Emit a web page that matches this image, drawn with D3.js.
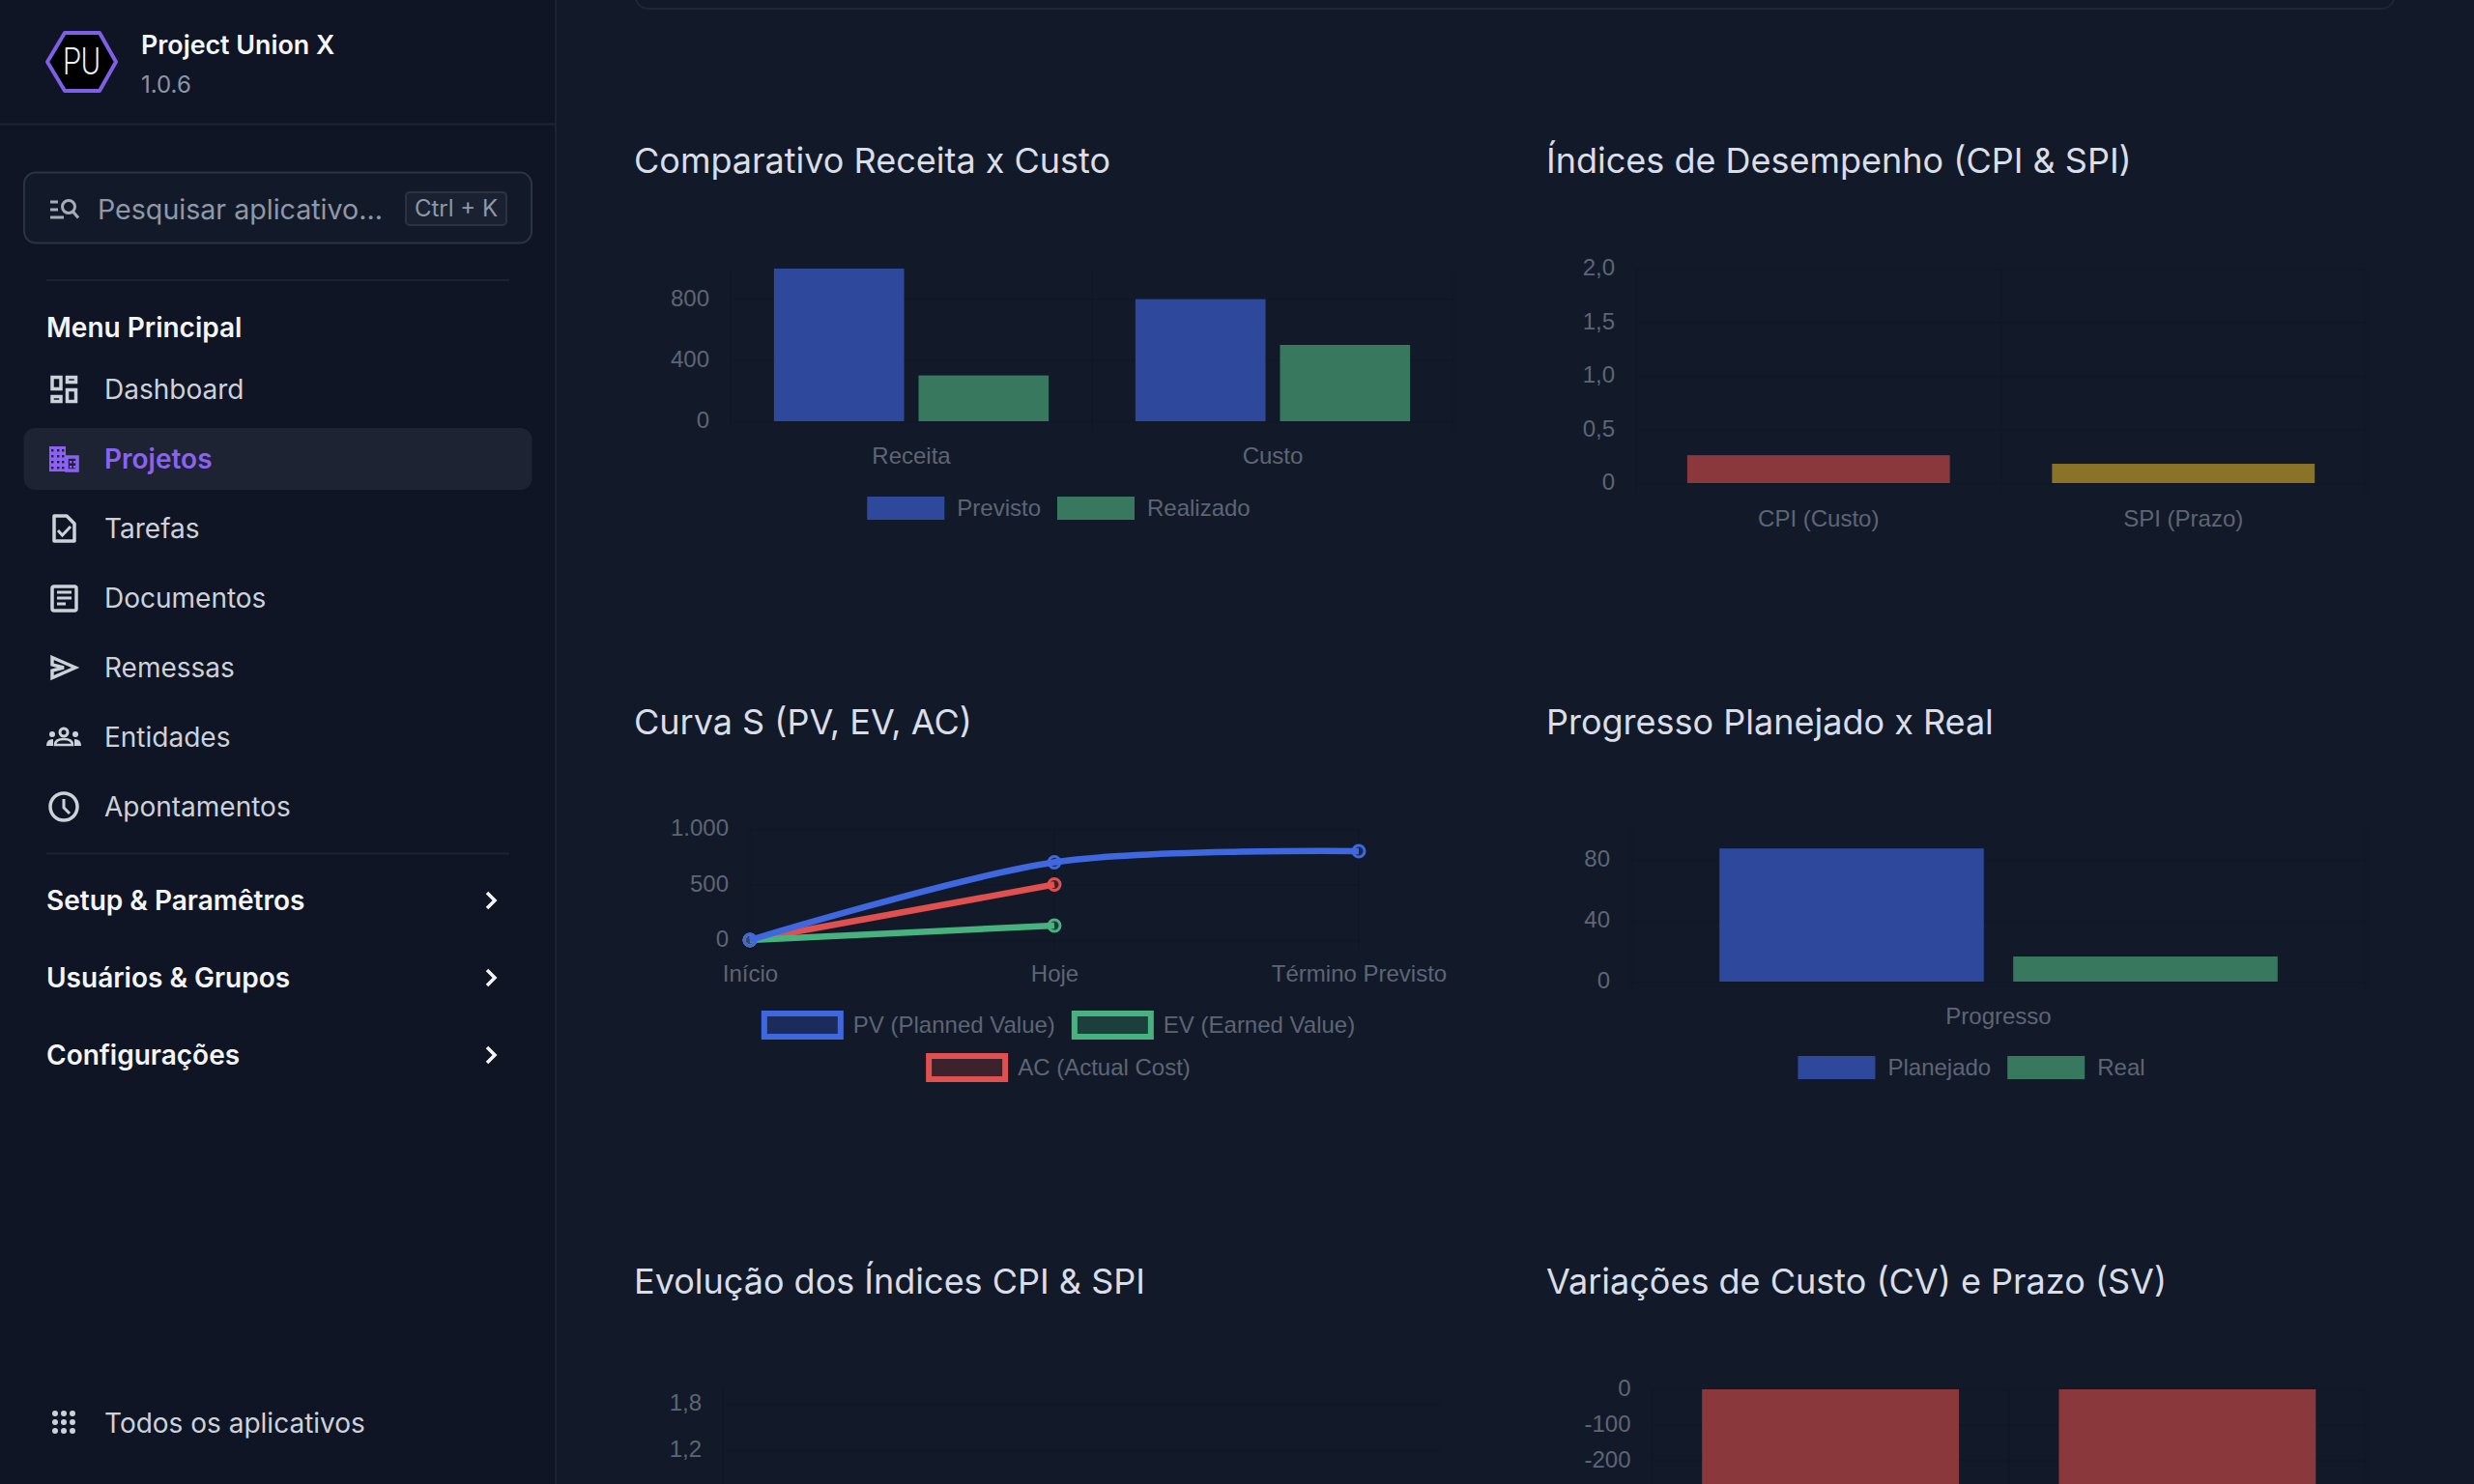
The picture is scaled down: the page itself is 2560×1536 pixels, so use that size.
<!DOCTYPE html>
<html>
<head>
<meta charset="utf-8">
<script src="https://cdn.jsdelivr.net/npm/d3@7"></script>
<style>
  html, body { margin: 0; padding: 0; background: #121a2a; overflow: hidden; }
  svg { display: block; font-family: Inter, "Noto Sans", sans-serif; }
  .tick-label, .tick text { fill: #5e6574; font-size: 24px; font-family: "Liberation Sans", Arial, sans-serif; }
  .title { fill: #d9dee8; font-size: 36px; }
  .nav { fill: #cdd2da; font-size: 28px; }
  .group { fill: #f3f4f6; font-size: 28px; font-weight: 600; }
</style>
</head>
<body>
<svg width="2560" height="1536"></svg>
<script>
// receita x custo
const costCategories = ['Receita', 'Custo'];
const costPrevisto = [1000, 800];
const costRealizado = [300, 500];

// cpi / spi
const indexCategories = ['CPI (Custo)', 'SPI (Prazo)'];
const indexValues = [0.26, 0.18];

// curva s
const sCategories = ['Início', 'Hoje', 'Término Previsto'];
const sPV = [0, 700, 800];
const sEV = [0, 130, null];
const sAC = [0, 500, null];

// progresso
const progressCategories = ['Progresso'];
const progressPlanejado = [87.5];
const progressReal = [16.5];

// evolucao (the lines are below the fold, only the axis shows)
const evolutionTicks = [1.2, 1.8];

// variacoes
const varCategories = ['CV', 'SV'];
const varValues = [-370, -570];
const varTicks = [0, -100, -200];

const navItems = ['Dashboard', 'Projetos', 'Tarefas', 'Documentos', 'Remessas', 'Entidades', 'Apontamentos'];
const navGroups = ['Setup & Paramêtros', 'Usuários & Grupos', 'Configurações'];

const BLUE = '#2e489c', GREEN = '#37785e', RED = '#8b383d', YELLOW = '#8a7228';
const GRID = '#101726';

const ptBR = d3.formatLocale({ decimal: ',', thousands: '.', grouping: [3], currency: ['R$', ''], minus: '-' });

const svg = d3.select('svg');

// ---- main area
svg.append('rect').attr('width', 2560).attr('height', 1536).attr('fill', '#121a2a');
svg.append('rect').attr('x', 657).attr('y', -30).attr('width', 1821).attr('height', 39).attr('rx', 14)
  .attr('fill', 'none').attr('stroke', '#1f2737').attr('stroke-width', 2);

function title(text, x, y) {
  svg.append('text').attr('class', 'title').attr('x', x).attr('y', y)
    .attr('dominant-baseline', 'central').text(text);
}

function valueAxis(g, y, left, right, ticks, fmt) {
  const axis = d3.axisLeft(y).tickValues(ticks).tickSize(-(right - left)).tickPadding(22).tickFormat(fmt);
  const a = g.append('g').attr('transform', `translate(${left},0)`).call(axis);
  a.select('.domain').remove();
  a.selectAll('line').attr('stroke', GRID).attr('stroke-width', 2);
  a.selectAll('text').attr('dy', '0.29em');
}

function categoryAxis(g, x, zero, labelY) {
  const a = g.append('g').attr('transform', `translate(0,${zero})`)
    .call(d3.axisBottom(x).tickSize(0));
  a.select('.domain').remove();
  a.selectAll('text').attr('y', labelY - zero).attr('dy', '0.35em');
}

function verticalGrid(g, xs, top, bottom) {
  g.selectAll('.vgrid').data(xs).enter().append('line').attr('class', 'vgrid')
    .attr('x1', d => d).attr('x2', d => d).attr('y1', top).attr('y2', bottom)
    .attr('stroke', GRID).attr('stroke-width', 2);
}

// rows is a list of rows of {name, fill, stroke}
function legend(rows, center, ys) {
  rows.forEach((row, r) => {
    const g = svg.append('g');
    let x = 0;
    row.forEach(item => {
      const inset = item.stroke ? 3 : 0;
      const h = item.stroke ? 30 : 24;
      const w = item.stroke ? 85 : 80;
      const gap = item.stroke ? 10 : 13;
      g.append('rect').attr('x', x + inset).attr('y', ys[r] + 1 - h / 2 + inset)
        .attr('width', w - 2 * inset).attr('height', h - 2 * inset)
        .attr('fill', item.fill).attr('stroke', item.stroke || 'none').attr('stroke-width', item.stroke ? 6 : 0);
      const t = g.append('text').attr('class', 'tick-label').attr('x', x + w + gap).attr('y', ys[r])
        .attr('dominant-baseline', 'central').text(item.name);
      x += w + gap + t.node().getComputedTextLength() + 17;
    });
    g.attr('transform', `translate(${center - (x - 17) / 2},0)`);
  });
}

function groupedBars(conf) {
  const g = svg.append('g');
  const y = d3.scaleLinear().domain(conf.domain).range([conf.zero, conf.top]);
  const x0 = d3.scaleBand().domain(conf.categories).range([conf.left, conf.right]).paddingInner(0.2).paddingOuter(0.1);
  const step = x0.step();
  const boundaries = d3.range(conf.categories.length + 1).map(i => conf.left + i * step);
  verticalGrid(g, boundaries, conf.top, conf.zero + 10);
  valueAxis(g, y, conf.left, conf.right, conf.ticks, conf.format);
  const x1 = d3.scaleBand().domain(conf.series.map(s => s.name)).range([0, x0.bandwidth()]).paddingInner(0.1).paddingOuter(0.05);
  conf.series.forEach(s => {
    g.selectAll(null).data(s.values).enter().append('rect')
      .attr('x', (d, i) => x0(conf.categories[i]) + x1(s.name))
      .attr('width', x1.bandwidth())
      .attr('y', d => Math.min(y(d), y(0)))
      .attr('height', d => Math.abs(y(d) - y(0)))
      .attr('fill', (d, i) => s.colors ? s.colors[i] : s.color);
  });
  categoryAxis(g, x0, conf.zero, conf.labelY);
}

// ---- charts
title('Comparativo Receita x Custo', 656, 166);
groupedBars({
  categories: costCategories, left: 756, right: 1504, top: 278, zero: 436, labelY: 472,
  domain: [0, 1000], ticks: [0, 400, 800], format: d3.format('d'),
  series: [
    { name: 'Previsto', values: costPrevisto, color: BLUE },
    { name: 'Realizado', values: costRealizado, color: GREEN }
  ]
});
legend([[{ name: 'Previsto', fill: BLUE }, { name: 'Realizado', fill: GREEN }]], 1095.5, [525]);

title('Índices de Desempenho (CPI & SPI)', 1600, 166);
groupedBars({
  categories: indexCategories, left: 1693, right: 2448, top: 278, zero: 500, labelY: 537,
  domain: [0, 2], ticks: [0, 0.5, 1, 1.5, 2],
  format: d => d === 0 ? '0' : ptBR.format('.1f')(d),
  series: [{ name: 'Índice', values: indexValues, colors: [RED, YELLOW] }]
});

title('Curva S (PV, EV, AC)', 656, 747);
{
  const g = svg.append('g');
  const left = 776, right = 1406, top = 858, zero = 973;
  const y = d3.scaleLinear().domain([0, 1000]).range([zero, top]);
  const x = d3.scalePoint().domain(sCategories).range([left, right]);
  verticalGrid(g, sCategories.map(c => x(c)), top, zero + 10);
  valueAxis(g, y, left, right, [0, 500, 1000], ptBR.format(',d'));
  categoryAxis(g, x, zero, 1008);
  const curve = d3.line().defined(d => d !== null)
    .x((d, i) => x(sCategories[i])).y(d => y(d))
    .curve(d3.curveCardinal.tension(0.1));
  const lines = [
    { values: sAC, color: '#e0504e' },
    { values: sEV, color: '#48b27f' },
    { values: sPV, color: '#3f68e0' }
  ];
  lines.forEach(l => {
    g.append('path').attr('d', curve(l.values)).attr('fill', 'none')
      .attr('stroke', l.color).attr('stroke-width', 6.5);
    g.selectAll(null).data(l.values.map((v, i) => ({ v, c: sCategories[i] })).filter(d => d.v !== null))
      .enter().append('circle')
      .attr('cx', d => x(d.c)).attr('cy', d => y(d.v)).attr('r', 6)
      .attr('fill', l.color).attr('fill-opacity', 0.2)
      .attr('stroke', l.color).attr('stroke-width', 3);
  });
}
legend([
  [{ name: 'PV (Planned Value)', fill: '#1b2c5c', stroke: '#3f68e0' }, { name: 'EV (Earned Value)', fill: '#1c3f3c', stroke: '#48b27f' }],
  [{ name: 'AC (Actual Cost)', fill: '#3b222d', stroke: '#e0504e' }]
], 1095, [1060, 1104]);

title('Progresso Planejado x Real', 1600, 747);
groupedBars({
  categories: progressCategories, left: 1688, right: 2448, top: 858.5, zero: 1016, labelY: 1052,
  domain: [0, 100], ticks: [0, 40, 80], format: d3.format('d'),
  series: [
    { name: 'Planejado', values: progressPlanejado, color: BLUE },
    { name: 'Real', values: progressReal, color: GREEN }
  ]
});
legend([[{ name: 'Planejado', fill: BLUE }, { name: 'Real', fill: GREEN }]], 2040, [1104]);

title('Evolução dos Índices CPI & SPI', 656, 1326);
{
  const g = svg.append('g');
  const y = d3.scaleLinear().domain([0, 2]).range([1597, 1437]);
  verticalGrid(g, [748], 1437, 1536);
  valueAxis(g, y, 748, 1492, evolutionTicks, d => d === 0 ? '0' : ptBR.format('.1f')(d));
}

title('Variações de Custo (CV) e Prazo (SV)', 1600, 1326);
{
  const g = svg.append('g');
  const left = 1709.5, right = 2448, top = 1438;
  const y = d3.scaleLinear().domain([0, -600]).range([top, top + 220]);
  const x0 = d3.scaleBand().domain(varCategories).range([left, right]).paddingInner(0.2).paddingOuter(0.1);
  verticalGrid(g, d3.range(3).map(i => left + i * x0.step()), top, 1536);
  valueAxis(g, y, left, right, varTicks, ptBR.format('d'));
  g.selectAll(null).data(varValues).enter().append('rect')
    .attr('x', (d, i) => x0(varCategories[i]) + x0.bandwidth() * 0.05)
    .attr('width', x0.bandwidth() * 0.9)
    .attr('y', y(0))
    .attr('height', d => y(d) - y(0))
    .attr('fill', RED);
}

// ---- sidebar
const side = svg.append('g');
side.append('rect').attr('width', 575).attr('height', 1536).attr('fill', '#0f1524');
side.append('line').attr('x1', 575).attr('x2', 575).attr('y1', 0).attr('y2', 1536).attr('stroke', '#1c2433').attr('stroke-width', 2);
side.append('line').attr('x1', 0).attr('x2', 575).attr('y1', 128.5).attr('y2', 128.5).attr('stroke', '#1c2433').attr('stroke-width', 2);

// logo
side.append('path').attr('d', 'M49,64 L67,34 H103 L120,64 L103,94 H67 Z')
  .attr('fill', '#000').attr('stroke', '#7f5fe6').attr('stroke-width', 4).attr('stroke-linejoin', 'round');
side.append('text').attr('x', 65).attr('y', 64).attr('dominant-baseline', 'central')
  .attr('font-family', 'Roboto').attr('font-weight', 300).attr('font-size', 38)
  .attr('textLength', 39).attr('lengthAdjust', 'spacingAndGlyphs').attr('fill', '#f2f2f2').text('PU');
side.append('text').attr('x', 146).attr('y', 46).attr('dominant-baseline', 'central')
  .attr('font-size', 26.8).attr('font-weight', 600).attr('fill', '#f5f6f8').text('Project Union X');
side.append('text').attr('x', 146).attr('y', 87).attr('dominant-baseline', 'central')
  .attr('font-size', 24).attr('fill', '#8a94a4').text('1.0.6');

// search box
side.append('rect').attr('x', 25).attr('y', 178.5).attr('width', 525).attr('height', 73).attr('rx', 12)
  .attr('fill', '#121a2a').attr('stroke', '#2c3443').attr('stroke-width', 2);
side.append('path').attr('d', 'M52,209 H60 M52,217 H60 M52,225 H66')
  .attr('stroke', '#a6adb8').attr('stroke-width', 3).attr('fill', 'none');
side.append('circle').attr('cx', 71).attr('cy', 214).attr('r', 6.5).attr('fill', 'none').attr('stroke', '#a6adb8').attr('stroke-width', 3);
side.append('path').attr('d', 'M75.5,219 L81,225.5').attr('stroke', '#a6adb8').attr('stroke-width', 3);
side.append('text').attr('x', 101).attr('y', 216).attr('dominant-baseline', 'central')
  .attr('font-size', 28.6).attr('fill', '#8f98a6').text('Pesquisar aplicativo...');
side.append('rect').attr('x', 420).attr('y', 199).attr('width', 104).attr('height', 34).attr('rx', 4)
  .attr('fill', '#1a2232').attr('stroke', '#2c3443').attr('stroke-width', 2);
side.append('text').attr('x', 472).attr('y', 215.5).attr('text-anchor', 'middle').attr('dominant-baseline', 'central')
  .attr('font-size', 24).attr('fill', '#8f98a6').text('Ctrl + K');

side.selectAll('.rule').data([290, 883.5]).enter().append('line').attr('class', 'rule')
  .attr('x1', 48).attr('x2', 527).attr('y1', d => d).attr('y2', d => d)
  .attr('stroke', '#1c2433').attr('stroke-width', 2);

side.append('text').attr('class', 'group').attr('x', 48).attr('y', 339).attr('dominant-baseline', 'central').text('Menu Principal');

// active item
side.append('rect').attr('x', 24.5).attr('y', 443).attr('width', 526).attr('height', 64).attr('rx', 12).attr('fill', '#1d2333');

const navY = d3.scalePoint().domain(navItems).range([403, 835]);
side.selectAll('.nav').data(navItems).enter().append('text').attr('class', 'nav')
  .attr('x', 108).attr('y', d => navY(d)).attr('dominant-baseline', 'central')
  .style('fill', d => d === 'Projetos' ? '#8b62f2' : null)
  .style('font-weight', d => d === 'Projetos' ? 600 : null)
  .text(d => d);

const iconStroke = { fill: 'none', stroke: '#cdd2da', 'stroke-width': 3.5 };
function icon(tag, attrs) {
  const el = side.append(tag);
  Object.entries({ ...iconStroke, ...attrs }).forEach(([k, v]) => el.attr(k, v));
  return el;
}
// dashboard
icon('rect', { x: 54, y: 390.5, width: 9, height: 12 });
icon('rect', { x: 69.5, y: 390.5, width: 9, height: 5 });
icon('rect', { x: 54, y: 410.5, width: 9, height: 5 });
icon('rect', { x: 69.5, y: 403.5, width: 9, height: 12 });
// projetos
side.append('rect').attr('x', 51).attr('y', 462).attr('width', 17).attr('height', 26).attr('fill', '#8b62f2');
icon('rect', { x: 69, y: 473, width: 11, height: 14, stroke: '#8b62f2' });
side.selectAll(null).data(d3.cross([54, 60, 65], [466, 472, 478, 484])).enter().append('rect')
  .attr('x', d => d[0] - 1).attr('y', d => d[1] - 1).attr('width', 2.4).attr('height', 2.4).attr('fill', '#1d2333');
side.selectAll(null).data(d3.cross([73, 77], [478, 483])).enter().append('rect')
  .attr('x', d => d[0] - 1).attr('y', d => d[1] - 1).attr('width', 2.4).attr('height', 2.4).attr('fill', '#8b62f2');
// tarefas
icon('path', { d: 'M56,534 H69 L77,542 V560 H56 Z', 'stroke-linejoin': 'round' });
icon('path', { d: 'M60,549 L64.5,554 L73,545', 'stroke-width': 3 });
// documentos
icon('rect', { x: 54, y: 607, width: 25, height: 25, rx: 2 });
icon('path', { d: 'M59,613 H74 M59,619 H74 M59,625 H68', 'stroke-width': 3 });
// remessas
icon('path', { d: 'M54,680.5 L78,691 L54,701.5 V694 L66,691 L54,688 Z' });
// entidades
side.append('circle').attr('cx', 66).attr('cy', 758).attr('r', 4).attr('fill', 'none').attr('stroke', '#cdd2da').attr('stroke-width', 3);
icon('path', { d: 'M57,771 Q57,765 66,765 Q75,765 75,771 Z', 'stroke-width': 2.5 });
side.selectAll(null).data([[54, 760], [78, 760]]).enter().append('circle')
  .attr('cx', d => d[0]).attr('cy', d => d[1]).attr('r', 3).attr('fill', '#cdd2da');
side.append('path').attr('d', 'M48,772 Q48,765 55,765 V772 Z M84,772 Q84,765 77,765 V772 Z').attr('fill', '#cdd2da');
// apontamentos
side.append('circle').attr('cx', 66).attr('cy', 835).attr('r', 14).attr('fill', 'none').attr('stroke', '#cdd2da').attr('stroke-width', 3.5);
icon('path', { d: 'M66,827 V836 L72,842', 'stroke-width': 3 });

const groupY = d3.scalePoint().domain(navGroups).range([932, 1092]);
side.selectAll('.g2').data(navGroups).enter().append('text').attr('class', 'group g2')
  .attr('x', 48).attr('y', d => groupY(d)).attr('dominant-baseline', 'central').text(d => d);
side.selectAll('.chev').data(navGroups).enter().append('path').attr('class', 'chev')
  .attr('d', d => `M504,${groupY(d) - 8} L512,${groupY(d)} L504,${groupY(d) + 8}`)
  .attr('fill', 'none').attr('stroke', '#f3f4f6').attr('stroke-width', 3.5);

side.selectAll('.dot').data(d3.cross([57, 66, 75], [1463, 1472, 1481])).enter().append('circle').attr('class', 'dot')
  .attr('cx', d => d[0]).attr('cy', d => d[1]).attr('r', 3).attr('fill', '#cdd2da');
side.append('text').attr('class', 'nav').attr('x', 108).attr('y', 1473).attr('dominant-baseline', 'central').text('Todos os aplicativos');
</script>
</body>
</html>
